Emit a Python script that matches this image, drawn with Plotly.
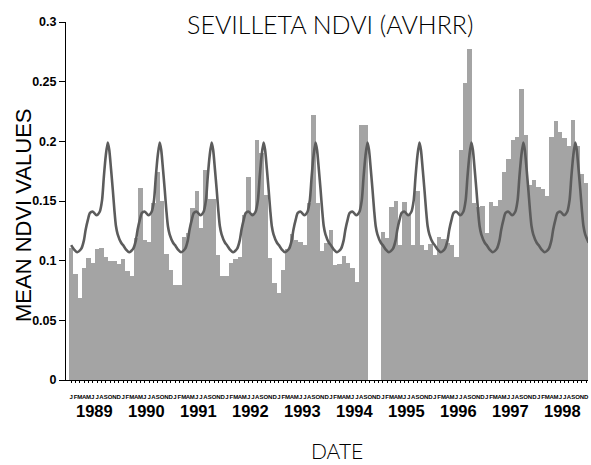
import plotly.graph_objects as go

# Monthly mean NDVI, Sevilleta (AVHRR), Jan 1989 - Dec 1998
years = list(range(1989, 1999))
month_letters = ["J", "F", "M", "A", "M", "J", "J", "A", "S", "O", "N", "D"]

ndvi_1989 = [0.111, 0.089, 0.069, 0.094, 0.102, 0.098, 0.110, 0.111, 0.103, 0.100, 0.100, 0.097]
ndvi_1990 = [0.101, 0.091, 0.087, 0.119, 0.161, 0.117, 0.116, 0.148, 0.174, 0.150, 0.106, 0.092]
ndvi_1991 = [0.080, 0.080, 0.120, 0.123, 0.144, 0.158, 0.127, 0.176, 0.152, 0.152, 0.105, 0.087]
ndvi_1992 = [0.087, 0.098, 0.101, 0.103, 0.138, 0.170, 0.140, 0.201, 0.190, 0.155, 0.102, 0.081]
ndvi_1993 = [0.073, 0.092, 0.110, 0.122, 0.117, 0.116, 0.113, 0.148, 0.222, 0.148, 0.108, 0.115]
ndvi_1994 = [0.126, 0.096, 0.097, 0.104, 0.098, 0.094, 0.082, 0.214, 0.214, None, None, None]
ndvi_1995 = [0.124, 0.119, 0.145, 0.150, 0.113, 0.149, 0.138, 0.113, 0.158, 0.113, 0.109, 0.114]
ndvi_1996 = [0.105, 0.120, 0.118, 0.115, 0.113, 0.103, 0.193, 0.249, 0.277, 0.148, 0.145, 0.146]
ndvi_1997 = [0.123, 0.149, 0.146, 0.151, 0.174, 0.185, 0.201, 0.204, 0.244, 0.205, 0.163, 0.168]
ndvi_1998 = [0.162, 0.160, 0.154, 0.204, 0.217, 0.208, 0.203, 0.196, 0.218, 0.196, 0.173, 0.165]

monthly_ndvi = (ndvi_1989 + ndvi_1990 + ndvi_1991 + ndvi_1992 + ndvi_1993
                + ndvi_1994 + ndvi_1995 + ndvi_1996 + ndvi_1997 + ndvi_1998)

# Long-term seasonal NDVI cycle (month position within the year, value)
cycle_month = [0.0, 0.75, 1.4, 1.85, 2.35, 2.95, 3.35, 3.85, 4.35, 5.05, 5.85, 6.6,
               7.15, 7.55, 8.0, 8.45, 8.8, 9.23, 9.63, 10.0, 10.35, 10.75, 11.55]
cycle_ndvi = [0.113, 0.109, 0.107, 0.108, 0.110, 0.117, 0.126, 0.134, 0.140, 0.141, 0.138, 0.141,
              0.151, 0.170, 0.188, 0.199, 0.193, 0.176, 0.159, 0.142, 0.129, 0.122, 0.115]

y_ticks = [0, 0.05, 0.1, 0.15, 0.2, 0.25, 0.3]
y_tick_text = ["0", "0.05", "0.1", "0.15", "0.2", "0.25", "0.3"]

months = list(range(len(monthly_ndvi)))
month_text = month_letters * len(years)
curve_x = [12 * k + t for k in range(len(years)) for t in cycle_month]
curve_y = [v for _ in years for v in cycle_ndvi]

fig = go.Figure()
fig.add_trace(go.Bar(
    x=months, y=monthly_ndvi, width=1.0,
    marker=dict(color="#a4a4a4", line=dict(width=0)),
    hoverinfo="skip",
))
fig.add_trace(go.Scatter(
    x=curve_x, y=curve_y, mode="lines",
    line=dict(color="#5c5c5c", width=2.6, shape="spline", smoothing=0.7),
    hoverinfo="skip",
))

L, R, T, B = 66, 3, 22, 85
W, H = 591, 465
pw, ph = W - L - R, H - T - B


def px_x(px):
    return (px - L) / pw


def px_y(py):
    return (H - B - py) / ph


annotations = [
    dict(text="SEVILLETA NDVI (AVHRR)", x=px_x(330), y=px_y(24), xref="paper", yref="paper",
         showarrow=False, xanchor="center", yanchor="middle",
         font=dict(family="Lato", size=25, color="black", weight=300)),
    dict(text="DATE", x=px_x(337), y=px_y(450), xref="paper", yref="paper",
         showarrow=False, xanchor="center", yanchor="middle",
         font=dict(family="Lato", size=21, color="black", weight=300)),
    dict(text="MEAN NDVI VALUES", x=px_x(23), y=px_y(215), xref="paper", yref="paper",
         showarrow=False, xanchor="center", yanchor="middle", textangle=-90,
         font=dict(family="Liberation Sans", size=22, color="black")),
]
for k, yr in enumerate(years):
    annotations.append(dict(
        text=str(yr), x=12 * k + 5.5, y=px_y(411), xref="x", yref="paper",
        showarrow=False, xanchor="center", yanchor="middle",
        font=dict(family="Liberation Sans", size=16.5, color="black", weight="bold"),
    ))

fig.update_layout(
    width=W, height=H,
    margin=dict(l=L, r=R, t=T, b=B),
    paper_bgcolor="white", plot_bgcolor="white",
    bargap=0, showlegend=False,
    annotations=annotations,
    xaxis=dict(
        range=[-1.19, 119.4], showgrid=False, zeroline=False,
        showline=True, linecolor="black", linewidth=1,
        tickmode="array", tickvals=months, ticktext=month_text, tickangle=0,
        ticks="outside", ticklen=2, tickcolor="black", tickwidth=1,
        tickfont=dict(family="Liberation Sans", size=6, color="black", weight="bold"),
        ticklabelstandoff=9,
    ),
    yaxis=dict(
        range=[0, 0.3], showgrid=False, zeroline=False,
        showline=True, linecolor="black", linewidth=1,
        tickmode="array", tickvals=y_ticks, ticktext=y_tick_text,
        ticks="outside", ticklen=6, tickcolor="black",
        tickfont=dict(family="Liberation Sans", size=12.5, color="black", weight="bold"),
    ),
)

fig.write_html("out.html")
